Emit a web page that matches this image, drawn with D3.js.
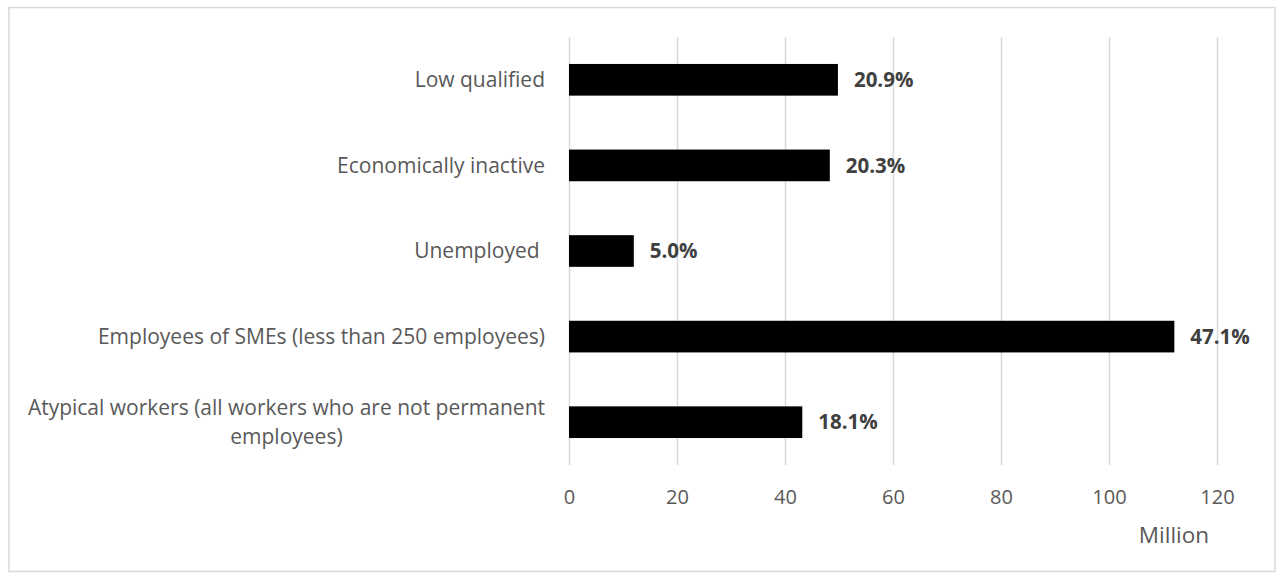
<!DOCTYPE html>
<html>
<head>
<meta charset="utf-8">
<script src="https://cdn.jsdelivr.net/npm/d3@7"></script>
<style>
  html, body { margin: 0; padding: 0; background: #fff; }
  svg { display: block; }
  text { font-family: "Open Sans", "Noto Sans", sans-serif; }
</style>
</head>
<body>
<svg id="chart" width="1284" height="580"></svg>
<script>
// ---- Data ----
const categories = [
  "Low qualified",
  "Economically inactive",
  "Unemployed ",
  "Employees of SMEs (less than 250 employees)",
  "Atypical workers (all workers who are not permanent|employees)"
];
const valuesMillion = [49.8, 48.3, 12.0, 112.1, 43.2];
const shareLabels = ["20.9%", "20.3%", "5.0%", "47.1%", "18.1%"];
const tickValues = [0, 20, 40, 60, 80, 100, 120];
const axisTitle = "Million";

// ---- Layout ----
const svg = d3.select("#chart");
const plot = { left: 569, right: 1217, top: 37, bottom: 465 };
const catFont = "21px";

// outer border
svg.append("rect")
  .attr("x", 9).attr("y", 7.5)
  .attr("width", 1266).attr("height", 564)
  .attr("fill", "#fff")
  .attr("stroke", "#d9d9d9").attr("stroke-width", 1.5);

const x = d3.scaleLinear().domain([0, 120]).range([plot.left, plot.right]);
const y = d3.scaleBand()
  .domain(categories)
  .range([plot.top, plot.bottom])
  .paddingInner(0.63)
  .paddingOuter(0.315);

// gridlines + tick labels via axis
const xAxis = d3.axisBottom(x).tickValues(tickValues).tickSize(-(plot.bottom - plot.top)).tickPadding(0).tickFormat(d3.format("d"));
const gx = svg.append("g")
  .attr("transform", `translate(0,${plot.bottom})`)
  .call(xAxis);
gx.select(".domain").remove();
gx.selectAll(".tick line").attr("stroke", "#d9d9d9").attr("stroke-width", 1.5);
gx.selectAll(".tick text")
  .attr("y", 32)
  .attr("dy", "0.35em")
  .attr("fill", "#595959")
  .style("font-size", "20px");

// bars
svg.append("g").selectAll("rect")
  .data(categories)
  .join("rect")
  .attr("x", x(0))
  .attr("y", d => y(d))
  .attr("width", (d, i) => x(valuesMillion[i]) - x(0))
  .attr("height", y.bandwidth())
  .attr("fill", "#000");

// value labels
svg.append("g").selectAll("text")
  .data(categories)
  .join("text")
  .attr("x", (d, i) => x(valuesMillion[i]) + 16)
  .attr("y", d => y(d) + y.bandwidth() / 2)
  .attr("dy", "0.35em")
  .attr("fill", "#404040")
  .style("font-size", "20.5px")
  .style("font-weight", "bold")
  .text((d, i) => shareLabels[i]);

// category labels
const labelRight = 545;
const catG = svg.append("g");
categories.forEach(c => {
  const lines = c.split("|");
  const cy = y(c) + y.bandwidth() / 2;
  if (lines.length === 1) {
    catG.append("text")
      .attr("x", labelRight)
      .attr("y", cy)
      .attr("dy", "0.35em")
      .attr("text-anchor", "end")
      .attr("fill", "#595959")
      .style("font-size", catFont)
      .style("white-space", "pre")
      .text(lines[0]);
  } else {
    const lh = 28.5;
    const t0 = catG.append("text")
      .attr("x", labelRight)
      .attr("y", cy - lh / 2)
      .attr("dy", "0.35em")
      .attr("text-anchor", "end")
      .attr("fill", "#595959")
      .style("font-size", catFont)
      .text(lines[0]);
    const w0 = t0.node().getComputedTextLength();
    const mid = labelRight - w0 / 2;
    lines.slice(1).forEach((ln, k) => {
      catG.append("text")
        .attr("x", mid)
        .attr("y", cy - lh / 2 + lh * (k + 1))
        .attr("dy", "0.35em")
        .attr("text-anchor", "middle")
        .attr("fill", "#595959")
        .style("font-size", catFont)
        .text(ln);
    });
  }
});

// axis title
svg.append("text")
  .attr("x", 1174)
  .attr("y", 535)
  .attr("dy", "0.35em")
  .attr("text-anchor", "middle")
  .attr("fill", "#595959")
  .style("font-size", "22.5px")
  .text(axisTitle);
</script>
</body>
</html>
